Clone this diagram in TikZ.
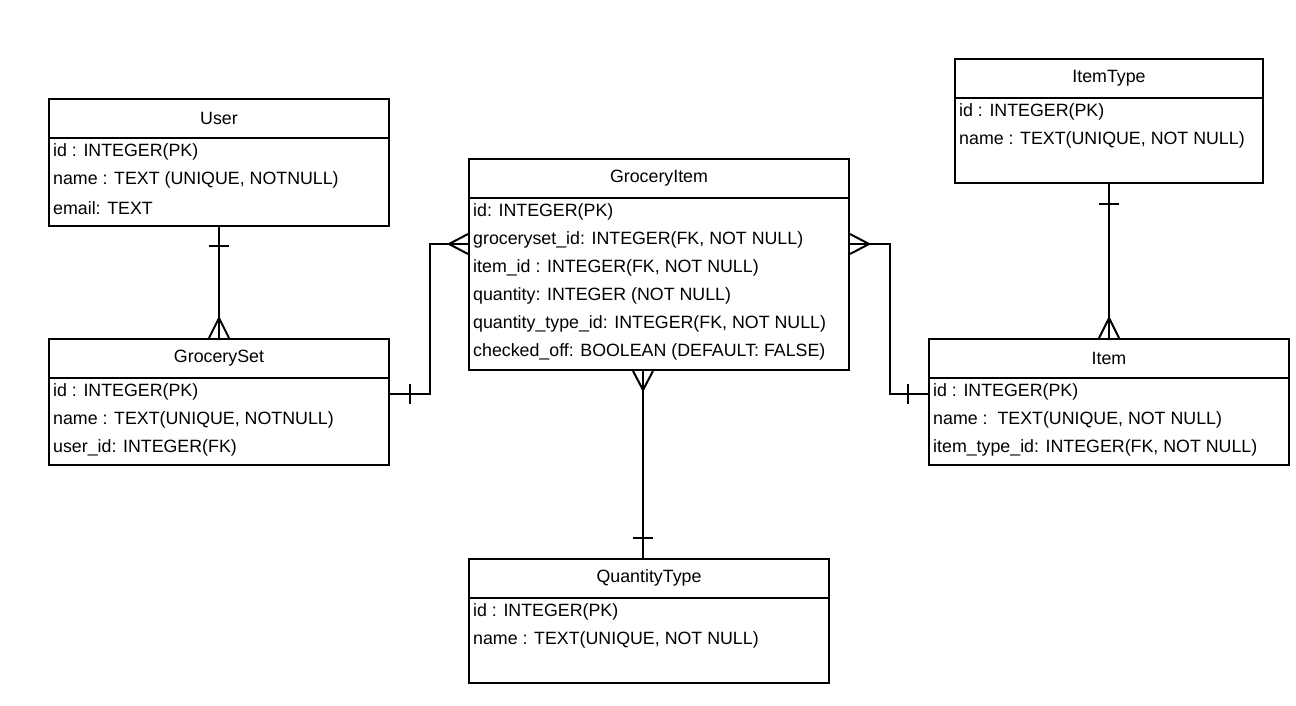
\documentclass[tikz,border=0pt]{standalone}
\usepackage{fontspec}
\setmainfont{Liberation Sans}
\usetikzlibrary{calc,positioning}

\newcommand{\TableRows}[2]{%
  \foreach \t [count=\r] in {#2} {
    \node[row] at ($(#1.north west) + (5, {26 + \r * 28})$) {\t};
  }
}
\newcommand{\TableHead}[2]{%
  \draw[tbl line] ($(#1.north west) + (0, 40)$) -- ($(#1.north east) + (0, 40)$);
  \node[head] at ($(#1.north) + (0, 20)$) {#2};
}

\begin{document}
\begin{tikzpicture}[x=1pt, y=-1pt, font=\fontsize{17.8}{22}\selectfont,
    tbl/.style={draw, line width=2pt, anchor=north west, inner sep=0pt},
    tbl line/.style={line width=2pt},
    head/.style={inner sep=0pt},
    row/.style={anchor=west, inner sep=0pt},
    rel/.style={line width=2pt}]
    \useasboundingbox (1, 1) rectangle (1297, 706);

    \node[tbl, minimum width=340pt, minimum height=127pt] (user) at (49, 99) {};
    \node[tbl, minimum width=340pt, minimum height=126pt] (groceryset) at (49, 339) {};
    \node[tbl, minimum width=380pt, minimum height=211pt] (groceryitem) at (469, 159) {};
    \node[tbl, minimum width=308pt, minimum height=124pt] (itemtype) at (955, 59) {};
    \node[tbl, minimum width=360pt, minimum height=126pt] (item) at (929, 339) {};
    \node[tbl, minimum width=360pt, minimum height=124pt] (quantitytype) at (469, 559) {};

    \TableHead{user}{User}
    \TableRows{user}{{id : INTEGER(PK)}, {name : TEXT (UNIQUE, NOTNULL)}, {email: TEXT}}

    \TableHead{groceryset}{GrocerySet}
    \TableRows{groceryset}{{id : INTEGER(PK)}, {name : TEXT(UNIQUE, NOTNULL)}, {user\_id: INTEGER(FK)}}

    \TableHead{groceryitem}{GroceryItem}
    \TableRows{groceryitem}{{id: INTEGER(PK)}, {groceryset\_id: INTEGER(FK, NOT NULL)}, {item\_id : INTEGER(FK, NOT NULL)}, {quantity: INTEGER (NOT NULL)}, {quantity\_type\_id: INTEGER(FK, NOT NULL)}, {checked\_off: BOOLEAN (DEFAULT: FALSE)}}

    \TableHead{itemtype}{ItemType}
    \TableRows{itemtype}{{id : INTEGER(PK)}, {name : TEXT(UNIQUE, NOT NULL)}}

    \TableHead{item}{Item}
    \TableRows{item}{{id : INTEGER(PK)}, {name :\ \ TEXT(UNIQUE, NOT NULL)}, {item\_type\_id: INTEGER(FK, NOT NULL)}}

    \TableHead{quantitytype}{QuantityType}
    \TableRows{quantitytype}{{id : INTEGER(PK)}, {name : TEXT(UNIQUE, NOT NULL)}}

    % User -- GrocerySet
    \draw[rel] (user.south) -- (groceryset.north);
    \draw[rel] ($(user.south) + (-10, 19)$) -- ($(user.south) + (10, 19)$);
    \draw[rel] ($(groceryset.north) + (-10, 0)$) -- ($(groceryset.north) + (0, -20)$) -- ($(groceryset.north) + (10, 0)$);

    % GrocerySet -- GroceryItem
    \coordinate (gsR) at ($(groceryset.north east) + (0, 56)$);
    \coordinate (giL) at ($(groceryitem.north west) + (0, 86)$);
    \draw[rel] (gsR) -- ++(40, 0) |- (giL);
    \draw[rel] ($(gsR) + (20, -10)$) -- ($(gsR) + (20, 10)$);
    \draw[rel] ($(giL) + (0, -10)$) -- ($(giL) + (-19, 0)$) -- ($(giL) + (0, 10)$);

    % GroceryItem -- Item
    \coordinate (giR) at ($(groceryitem.north east) + (0, 86)$);
    \coordinate (itL) at ($(item.north west) + (0, 56)$);
    \draw[rel] (giR) -- ++(40, 0) |- (itL);
    \draw[rel] ($(itL) + (-20, -10)$) -- ($(itL) + (-20, 10)$);
    \draw[rel] ($(giR) + (0, -10)$) -- ($(giR) + (19, 0)$) -- ($(giR) + (0, 10)$);

    % ItemType -- Item
    \draw[rel] (itemtype.south) -- (item.north);
    \draw[rel] ($(itemtype.south) + (-10, 20)$) -- ($(itemtype.south) + (10, 20)$);
    \draw[rel] ($(item.north) + (-10, 0)$) -- ($(item.north) + (0, -20)$) -- ($(item.north) + (10, 0)$);

    % GroceryItem -- QuantityType
    \coordinate (giB) at ($(groceryitem.south west) + (175, 0)$);
    \coordinate (qtT) at ($(quantitytype.north west) + (175, 0)$);
    \draw[rel] (giB) -- (qtT);
    \draw[rel] ($(qtT) + (-10, -20)$) -- ($(qtT) + (10, -20)$);
    \draw[rel] ($(giB) + (-10, 0)$) -- ($(giB) + (0, 19)$) -- ($(giB) + (10, 0)$);
\end{tikzpicture}
\end{document}
